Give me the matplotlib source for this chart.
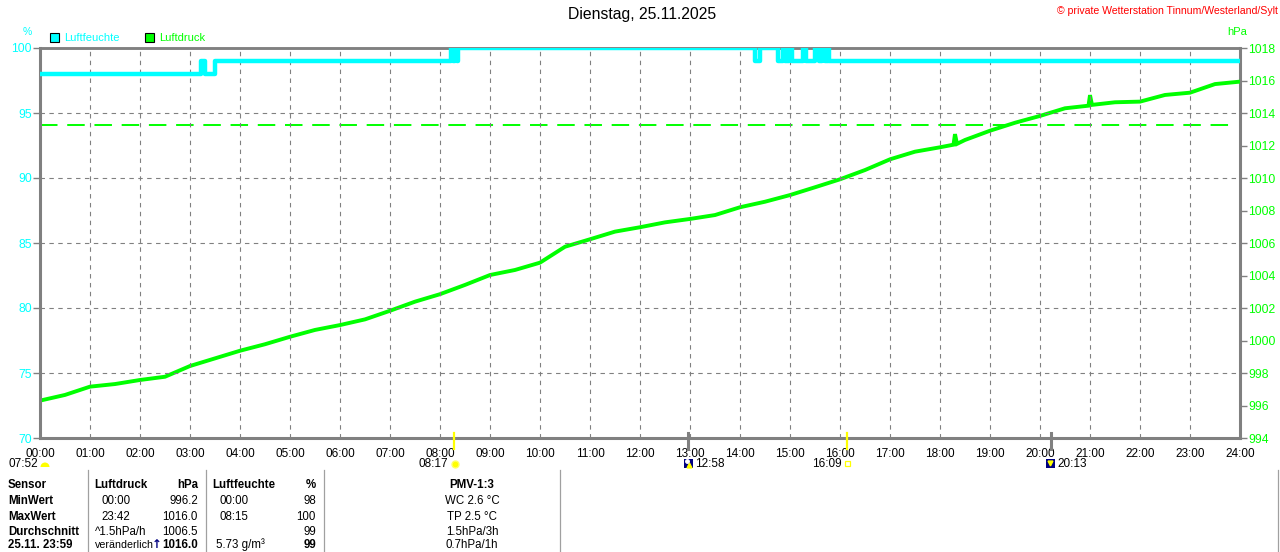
import matplotlib
matplotlib.use("Agg")
import matplotlib.pyplot as plt
from matplotlib.patches import Rectangle, Wedge

# ---------------- data ----------------
hours = list(range(25))
hour_labels = [f"{h:02d}:00" for h in hours]

press_t = [0, 0.5, 1, 1.5, 2, 2.5, 3, 3.5, 4, 4.5, 5, 5.5, 6, 6.5, 7, 7.5, 8, 8.5,
           9, 9.5, 10, 10.5, 11, 11.5, 12, 12.5, 13, 13.5, 14, 14.5, 15, 15.5, 16,
           16.5, 17, 17.5, 18, 18.27, 18.30, 18.34, 18.5, 19, 19.5, 20, 20.5, 20.97,
           21.0, 21.04, 21.5, 22, 22.5, 23, 23.5, 24]
press_v = [996.30, 996.65, 997.16, 997.32, 997.57, 997.77, 998.43, 998.90, 999.37,
           999.77, 1000.23, 1000.65, 1000.95, 1001.30, 1001.83, 1002.39, 1002.85,
           1003.42, 1004.03, 1004.34, 1004.79, 1005.77, 1006.23, 1006.70, 1006.97,
           1007.27, 1007.48, 1007.72, 1008.20, 1008.54, 1008.95, 1009.43, 1009.92,
           1010.49, 1011.15, 1011.62, 1011.89, 1012.05, 1012.70, 1012.10, 1012.34,
           1012.91, 1013.40, 1013.82, 1014.29, 1014.45, 1015.10, 1014.50, 1014.66,
           1014.70, 1015.11, 1015.25, 1015.78, 1015.93]

hum_t = [0, 3.22, 3.30, 3.50, 8.22, 8.26, 8.30, 8.34, 8.37, 14.30, 14.40, 14.76,
         14.86, 14.90, 14.98, 15.04, 15.26, 15.32, 15.50, 15.58, 15.64, 15.70,
         15.76, 15.78, 24]
hum_v = [98, 99, 98, 99, 100, 99, 100, 99, 100, 99, 100, 99, 100, 99, 100, 99,
         100, 99, 100, 99, 100, 99, 100, 99, 99]

std_pressure = 1013.25

sun_times = [8.283, 16.15]      # sunrise 08:17, sunset 16:09
moon_times = [12.967, 20.217]   # moonrise 12:58, moonset 20:13

title = "Dienstag, 25.11.2025"
copyright_text = "© private Wetterstation Tinnum/Westerland/Sylt"

table_header = ["Sensor", "Luftdruck", "hPa", "Luftfeuchte", "%", "PMV-1:3"]
row_names = ["MinWert", "MaxWert", "Durchschnitt", "25.11. 23:59"]
col_p_info = ["00:00", "23:42", "^1.5hPa/h", "veränderlich"]
col_p_val = ["996.2", "1016.0", "1006.5", "1016.0"]
col_h_info = ["00:00", "08:15", "", "5.73 g/m³"]
col_h_val = ["98", "100", "99", "99"]
col_pmv = ["WC 2.6 °C", "TP 2.5 °C", "1.5hPa/3h", "0.7hPa/1h"]

# ---------------- style ----------------
W, H = 1280, 552
CYAN = "#00FFFF"
GREEN = "#00FF00"
GRAY = "#808080"
FONT = "Liberation Sans"
plt.rcParams["font.family"] = [FONT, "DejaVu Sans"]

fig = plt.figure(figsize=(W / 100, H / 100), dpi=100)
fig.patch.set_facecolor("white")

L, R, T, B = 40, 1240, 48, 438
ax = fig.add_axes([L / W, 1 - B / H, (R - L) / W, (B - T) / H])
ax.set_xlim(0, 24)
ax.set_ylim(70, 100)
ax2 = ax.twinx()
ax2.set_ylim(994, 1018)

# grid
for h in hours[1:-1]:
    ax.axvline(h, color=GRAY, lw=0.8, ls=(0, (4, 4)), zorder=1)
for v in range(75, 100, 5):
    ax.axhline(v, color=GRAY, lw=0.8, ls=(0, (4, 4)), zorder=1)

# spines
for s in ["left", "bottom", "right", "top"]:
    ax.spines[s].set_color(GRAY)
    ax2.spines[s].set_color(GRAY)
ax.spines["left"].set_linewidth(2.2)
ax.spines["bottom"].set_linewidth(2.2)
ax.spines["top"].set_linewidth(1.8)
ax2.spines["right"].set_linewidth(2.2)
ax2.spines["top"].set_linewidth(1.8)
ax2.spines["left"].set_visible(False)
ax2.spines["bottom"].set_visible(False)

# ticks
ax.set_xticks(hours)
ax.set_xticklabels(hour_labels, fontsize=8.5, color="black")
ax.tick_params(axis="x", length=0, pad=7)
ax.set_yticks(range(70, 101, 5))
ax.set_yticklabels([str(v) for v in range(70, 101, 5)], fontsize=8.7, color=CYAN)
ax.tick_params(axis="y", length=5, width=1, color=GRAY, pad=1, direction="out")
ax2.set_yticks(range(994, 1019, 2))
ax2.set_yticklabels([str(v) for v in range(994, 1019, 2)], fontsize=8.7, color=GREEN)
ax2.tick_params(axis="y", length=5, width=1, color=GRAY, pad=1, direction="out")

# data
ax2.plot(press_t, press_v, color=GREEN, lw=2.8, zorder=3, solid_joinstyle="miter")
ax2.plot([0, 23.8], [std_pressure, std_pressure], color=GREEN, lw=1.4,
         ls=(0, (9, 5)), zorder=2)
ax.step(hum_t, hum_v, where="post", color=CYAN, lw=3.2, zorder=4)
ax.set_zorder(ax2.get_zorder() + 1)
ax.patch.set_visible(False)

# sun / moon marks on time axis
xt = ax.get_xaxis_transform()
for t in sun_times:
    ax.plot([t, t], [-0.028, 0.012], color="#FFFF00", lw=1.6, transform=xt,
            clip_on=False, zorder=6)
for t in moon_times:
    ax.plot([t, t], [-0.028, 0.012], color=GRAY, lw=2.2, transform=xt,
            clip_on=False, zorder=6)

# ---------------- overlay (pixel coordinates) ----------------
ov = fig.add_axes([0, 0, 1, 1])
ov.set_xlim(0, W)
ov.set_ylim(H, 0)
ov.axis("off")

ov.text(642, 15, title, fontsize=11.3, ha="center", va="center", color="black")
ov.text(1278, 11, copyright_text, fontsize=7.6, ha="right", va="center", color="red")
ov.text(27, 32, "%", fontsize=7.5, ha="center", va="center", color=CYAN)
ov.text(1237, 32, "hPa", fontsize=8, ha="center", va="center", color=GREEN)

# legend
ov.add_patch(Rectangle((50, 33), 9, 9, facecolor=CYAN, edgecolor="black", lw=0.8))
ov.text(64, 38, "Luftfeuchte", fontsize=8, ha="left", va="center", color=CYAN)
ov.add_patch(Rectangle((145, 33), 9, 9, facecolor=GREEN, edgecolor="black", lw=0.8))
ov.text(159, 38, "Luftdruck", fontsize=8, ha="left", va="center", color=GREEN)

# astro labels
fs_a = 8.5
ov.text(38, 464, "07:52", fontsize=fs_a, ha="right", va="center")
ov.add_patch(Wedge((45, 467), 4.5, 180, 360, facecolor="#FFFF00", edgecolor="none"))
ov.text(448, 464, "08:17", fontsize=fs_a, ha="right", va="center")
ov.plot([455], [464], marker="o", ms=5, color="#FFFF00", mec="#FFFF66")
ov.add_patch(Rectangle((684, 459), 9, 9, facecolor="#000080", edgecolor="none"))
ov.plot([689], [465], marker="^", ms=3.5, color="#FFFF00")
ov.plot([687], [461], marker="o", ms=2.5, color="white")
ov.text(695, 464, "12:58", fontsize=fs_a, ha="left", va="center")
ov.text(842, 464, "16:09", fontsize=fs_a, ha="right", va="center")
ov.add_patch(Rectangle((845, 461), 5, 5, facecolor="none", edgecolor="#FFFF00", lw=0.9))
ov.add_patch(Rectangle((1046, 459), 9, 9, facecolor="#000080", edgecolor="none"))
ov.plot([1050], [463], marker="v", ms=3.5, color="#FFFF00")
ov.text(1057, 464, "20:13", fontsize=fs_a, ha="left", va="center")

# table
for xs in [88, 206, 324, 560]:
    ov.plot([xs, xs], [470, 553], color="#A0A0A0", lw=0.9)
ov.plot([1278, 1278], [470, 553], color="#A0A0A0", lw=0.9)

fs_t = 8.3
row_y = [485, 501, 517, 532, 545]
ov.text(8, row_y[0], table_header[0], fontsize=fs_t, weight="bold", va="center")
ov.text(94, row_y[0], table_header[1], fontsize=fs_t, weight="bold", va="center")
ov.text(198, row_y[0], table_header[2], fontsize=fs_t, weight="bold", va="center", ha="right")
ov.text(212, row_y[0], table_header[3], fontsize=fs_t, weight="bold", va="center")
ov.text(316, row_y[0], table_header[4], fontsize=fs_t, weight="bold", va="center", ha="right")
ov.text(472, row_y[0], table_header[5], fontsize=fs_t, weight="bold", va="center", ha="center")

for i, name in enumerate(row_names):
    y = row_y[i + 1]
    last = i == len(row_names) - 1
    ov.text(8, y, name, fontsize=fs_t, weight="bold", va="center")
    px = 101 if col_p_info[i][0].isdigit() else 95
    ov.text(px, y, col_p_info[i], fontsize=fs_t - (0.6 if last else 0), va="center")
    ov.text(198, y, col_p_val[i], fontsize=fs_t, va="center", ha="right",
            weight="bold" if last else "normal")
    hx = 219 if col_h_info[i][:1].isdigit() and ":" in col_h_info[i] else 216
    ov.text(hx, y, col_h_info[i], fontsize=fs_t, va="center")
    ov.text(316, y, col_h_val[i], fontsize=fs_t, va="center", ha="right",
            weight="bold" if last else "normal")
    ov.text(472, y, col_pmv[i], fontsize=fs_t, va="center", ha="center")
ov.text(157, row_y[4], "↑", fontsize=8.5, va="center", ha="center", color="#000080",
        weight="bold", family=["DejaVu Sans"])

fig.savefig("out.png", dpi=100, facecolor="white")
